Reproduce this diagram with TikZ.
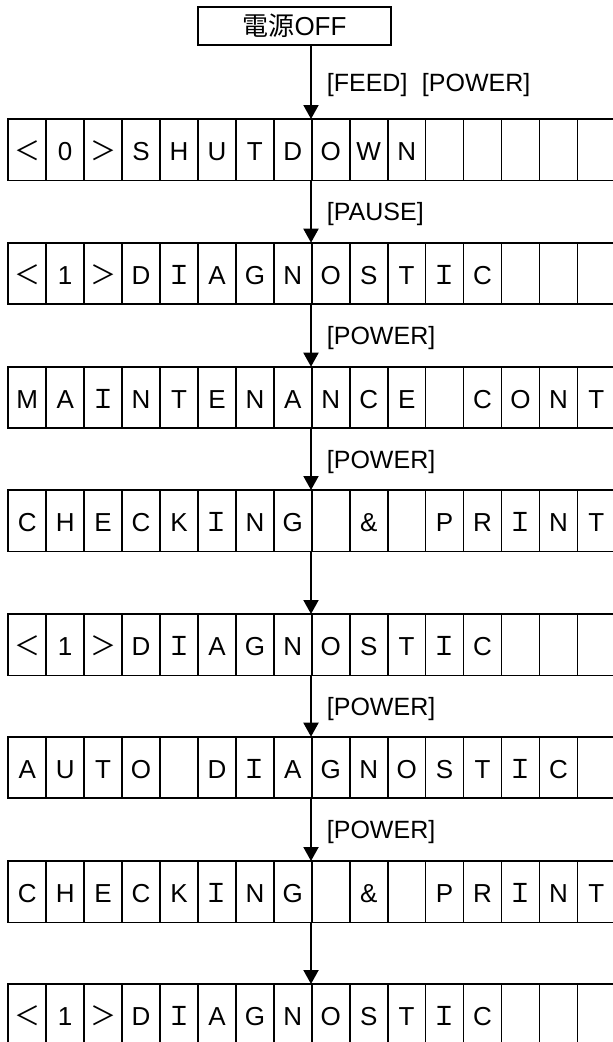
\documentclass[tikz,border=0pt]{standalone}
\usepackage{fontspec}
\setmainfont{Liberation Sans}
\newfontfamily\jp{Noto Sans CJK JP}
\usetikzlibrary{arrows.meta,calc}
\newcommand\LT{{\jp ＜}}
\newcommand\GT{{\jp ＞}}
\newcommand\II{{\jp Ｉ}}
\def\cw{37.94}
\def\rh{61.5}
\tikzset{
  rowbox/.style={draw, line width=1.7pt, minimum width=607.04pt, minimum height=61.5pt, inner sep=0pt, outer sep=0pt},
  cellline/.style={line width=1.7pt},
  cellchar/.style={anchor=base, inner sep=0pt, font=\fontsize{26}{30}\selectfont},
  arr/.style={line width=2pt, -{Triangle[width=15pt,length=14pt]}},
  keylabel/.style={anchor=base west, inner sep=0pt, font=\fontsize{25}{30}\selectfont},
  offbox/.style={draw, line width=1.7pt, minimum width=192.4pt, minimum height=37.7pt, inner sep=0pt, outer sep=0pt, font=\fontsize{26}{30}\selectfont}
}
\newcommand\lcdrow[3]{%
  \node[rowbox, anchor=north west] (#1) at (8.3,#2) {};
  \foreach \k in {1,...,15} {\draw[cellline] ($(#1.north west)+(\k*\cw,0)$) -- ($(#1.south west)+(\k*\cw,0)$);}
  \foreach \c [count=\k] in {#3} {\node[cellchar] at ($(#1.north west)+(\k*\cw-0.5*\cw,41.6)$) {\c};}
}
\newcommand\steparrow[3]{%
  \draw[arr] (#1.south -| ax) -- (#2.north -| ax);
  \node[keylabel] at ($($(#1.south -| ax)!0.5!(#2.north -| ax)$)+(15.7,9.3)$) {#3};
}
\begin{document}
\begin{tikzpicture}[x=1pt, y=-1pt]
  \useasboundingbox (0,0) rectangle (613,1042);
  \coordinate (ax) at (311,0);
  \node[offbox] (off) at (294.5,26.15) {{\jp 電源}OFF};
  \lcdrow{r1}{119}{\LT,0,\GT,S,H,U,T,D,O,W,N,{},{},{},{},{}}
  \lcdrow{r2}{242.7}{\LT,1,\GT,D,\II,A,G,N,O,S,T,\II,C,{},{},{}}
  \lcdrow{r3}{366.7}{M,A,\II,N,T,E,N,A,N,C,E,{},C,O,N,T}
  \lcdrow{r4}{490}{C,H,E,C,K,\II,N,G,{},\&,{},P,R,\II,N,T}
  \lcdrow{r5}{614}{\LT,1,\GT,D,\II,A,G,N,O,S,T,\II,C,{},{},{}}
  \lcdrow{r6}{736.7}{A,U,T,O,{},D,\II,A,G,N,O,S,T,\II,C,{}}
  \lcdrow{r7}{861}{C,H,E,C,K,\II,N,G,{},\&,{},P,R,\II,N,T}
  \lcdrow{r8}{984}{\LT,1,\GT,D,\II,A,G,N,O,S,T,\II,C,{},{},{}}
  \steparrow{off}{r1}{[FEED]\hspace{14.5pt}[POWER]}
  \steparrow{r1}{r2}{[PAUSE]}
  \steparrow{r2}{r3}{[POWER]}
  \steparrow{r3}{r4}{[POWER]}
  \steparrow{r4}{r5}{}
  \steparrow{r5}{r6}{[POWER]}
  \steparrow{r6}{r7}{[POWER]}
  \steparrow{r7}{r8}{}
\end{tikzpicture}
\end{document}
